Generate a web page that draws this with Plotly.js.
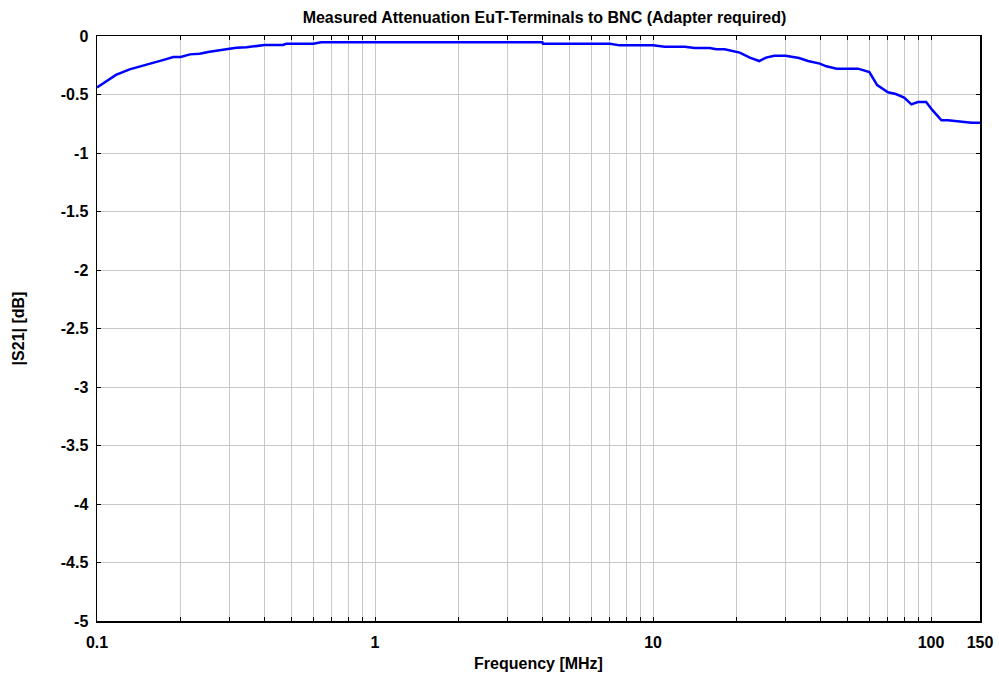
<!DOCTYPE html>
<html>
<head>
<meta charset="utf-8">
<script src="https://cdn.plot.ly/plotly-3.0.1.min.js"></script>
<style>html,body{margin:0;padding:0;background:#fff;}#chart{width:999px;height:677px;}</style>
</head>
<body>
<div id="chart"></div>
<script>
const freqMHz = [0.1, 0.117, 0.131, 0.159, 0.175, 0.188, 0.2, 0.216, 0.234, 0.254, 0.296, 0.317, 0.345, 0.364, 0.4, 0.466, 0.48, 0.6, 0.64, 4.0, 4.02, 7.0, 7.59, 10, 11.0, 13.0, 14.1, 16.0, 16.9, 18.1, 20.5, 22.3, 24.1, 25.5, 27.3, 30, 33.5, 36.1, 39.8, 42, 45.8, 54.6, 60, 64, 70, 74.7, 80, 85, 89.6, 96, 101, 109, 115, 140, 150];
const s21dB = [-0.44, -0.333, -0.285, -0.225, -0.202, -0.18, -0.18, -0.157, -0.151, -0.134, -0.108, -0.1, -0.097, -0.088, -0.077, -0.077, -0.066, -0.066, -0.054, -0.054, -0.066, -0.066, -0.08, -0.08, -0.091, -0.091, -0.103, -0.103, -0.114, -0.114, -0.142, -0.185, -0.214, -0.185, -0.168, -0.168, -0.188, -0.214, -0.236, -0.259, -0.279, -0.279, -0.308, -0.419, -0.481, -0.496, -0.527, -0.584, -0.564, -0.564, -0.632, -0.721, -0.721, -0.741, -0.741];
const xTickVals = [0.1,0.2,0.3,0.4,0.5,0.6,0.7,0.8,0.9,1,2,3,4,5,6,7,8,9,10,20,30,40,50,60,70,80,90,100,150];
const xTickText = ['0.1','','','','','','','','','1','','','','','','','','','10','','','','','','','','','100','150'];
const yTickVals = [0,-0.5,-1,-1.5,-2,-2.5,-3,-3.5,-4,-4.5,-5];
const yTickText = ['0','-0.5','-1','-1.5','-2','-2.5','-3','-3.5','-4','-4.5','-5'];

const fam = 'Liberation Sans, Arial, sans-serif';
const f16 = {family: fam, size: 16, color: '#000'};
Plotly.newPlot('chart', [{
  x: freqMHz, y: s21dB, type: 'scatter', mode: 'lines',
  line: {color: '#0000ff', width: 2.5}, hoverinfo: 'skip'
}], {
  width: 999, height: 677,
  margin: {l: 97, r: 19, t: 36, b: 56},
  paper_bgcolor: '#fff', plot_bgcolor: '#fff',
  showlegend: false,
  font: f16,
  title: {text: '<b>Measured Attenuation EuT-Terminals to BNC (Adapter required)</b>', font: {family: fam, size: 16, color: '#000'}, x: 0.545, xanchor: 'center', xref: 'container', y: 0.974, yanchor: 'middle'},
  xaxis: {
    type: 'log', range: [-1, Math.log10(150)],
    tickmode: 'array', tickvals: xTickVals, ticktext: xTickText.map(t => t ? '<b>' + t + '</b>' : ''),
    ticks: 'inside', ticklen: 4, tickcolor: '#000', tickwidth: 1, ticklabelstandoff: 6,
    showgrid: true, gridcolor: '#c8c8c8', gridwidth: 1,
    showline: true, linecolor: '#000', linewidth: 1.5, mirror: 'ticks',
    zeroline: false, tickfont: f16,
    title: {text: '<b>Frequency [MHz]</b>', font: f16, standoff: 8}
  },
  yaxis: {
    range: [-5, 0], tickmode: 'array', tickvals: yTickVals, ticktext: yTickText.map(t => '<b>' + t + '</b>'),
    ticks: 'inside', ticklen: 4, tickcolor: '#000', tickwidth: 1, ticklabelstandoff: 4,
    showgrid: true, gridcolor: '#c8c8c8', gridwidth: 1,
    showline: true, linecolor: '#000', linewidth: 1.5, mirror: 'ticks',
    zeroline: false, tickfont: f16,
    title: {text: '<b>|S21| [dB]</b>', font: f16, standoff: 32}
  }
}, {staticPlot: true});
</script>
</body>
</html>
